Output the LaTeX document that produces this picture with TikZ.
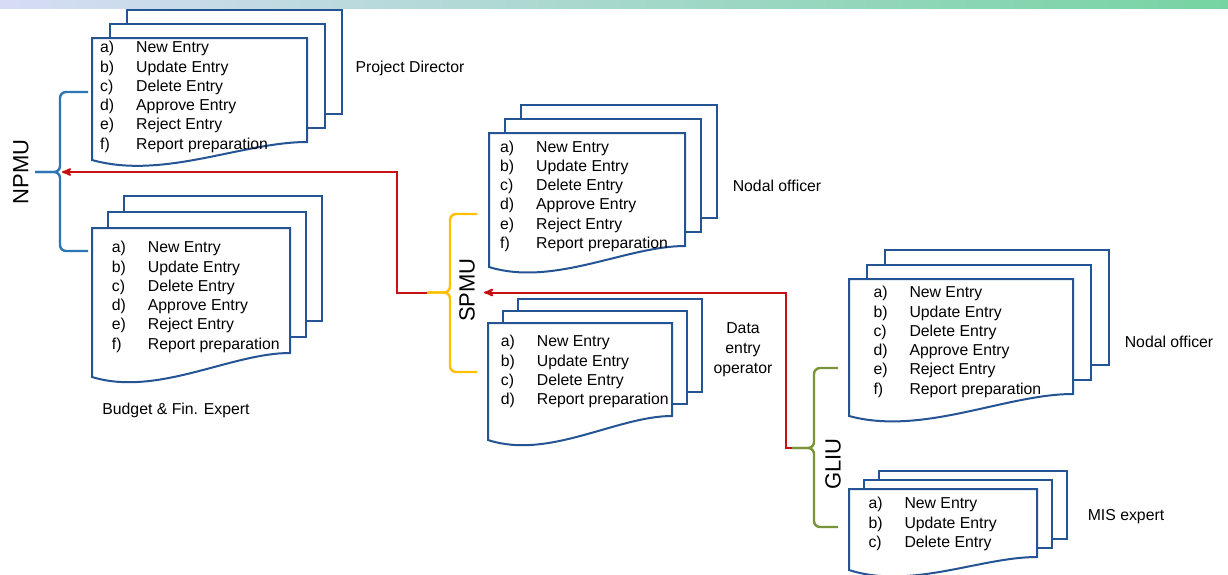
\documentclass[tikz,border=0pt]{standalone}
\usepackage{fontspec}
\setmainfont{Liberation Sans}
\usepackage{tikz}
\usetikzlibrary{arrows}
\usetikzlibrary{calc}

\definecolor{sheetblue}{RGB}{36,84,148}
\definecolor{npmublue}{RGB}{46,117,182}
\definecolor{spmugold}{RGB}{255,192,0}
\definecolor{gliugreen}{RGB}{122,148,58}
\definecolor{linkred}{RGB}{200,16,20}
\definecolor{bandleft}{RGB}{214,220,245}
\definecolor{bandmid}{RGB}{184,200,240}
\definecolor{bandright}{RGB}{118,212,162}

\tikzset{
  sheet/.style={draw=sheetblue, fill=white, line width=2pt},
  entries/.style={inner sep=0pt, anchor=base west, font=\fontsize{15.8}{19.3}\selectfont},
  role/.style={inner sep=0pt, align=center, font=\fontsize{15.8}{20}\selectfont},
  unit/.style={inner sep=0pt, rotate=90, font=\fontsize{22}{26}\selectfont},
  brace/.style={line width=2.4pt, rounded corners=6pt},
  link/.style={linkred, line width=2pt}
}

% list of actions on the front sheet
\newcommand{\sheetlist}[1]{\begin{tabular}[t]{@{}p{36pt}@{}l@{}}#1\end{tabular}}

% three stacked sheets: left, top, right, right bottom, left bottom, dx, dy
\newcommand{\sheetstack}[7]{
  \foreach \k in {2,1} {
    \draw[sheet] ({#1+\k*(#6)},{#2+\k*(#7)}) rectangle ({#3+\k*(#6)},{#4+\k*(#7)});
  }
  \draw[sheet] (#1,#2) -- (#3,#2) -- (#3,#4)
    .. controls ({#3-0.3*(#3-#1)},#4) and ({#1+0.33*(#3-#1)},{#5+20}) .. (#1,#5) -- cycle;
}

\begin{document}
\begin{tikzpicture}[x=1pt, y=-1pt, >=stealth']
\useasboundingbox (0,0) rectangle (1228,574);
\fill[white] (0,0) rectangle (1228,574);
\shade[left color=bandleft, middle color=bandmid, right color=bandright] (0,0) rectangle (1228,8);

% NPMU
\sheetstack{92}{38}{307}{142}{160}{17.5}{-14}
\node[entries] (pd list) at (100,52.7) {\sheetlist{a) & New Entry\\ b) & Update Entry\\ c) & Delete Entry\\ d) & Approve Entry\\ e) & Reject Entry\\ f) & Report preparation}};
\node[role] (pd) at (410,68) {Project Director};

\sheetstack{92}{228}{290}{353}{377}{16}{-16}
\node[entries] (bf list) at (111.7,252.7) {\sheetlist{a) & New Entry\\ b) & Update Entry\\ c) & Delete Entry\\ d) & Approve Entry\\ e) & Reject Entry\\ f) & Report preparation}};
\node[role] (bf) at (176,410) {Budget \& Fin. Expert};

% SPMU
\sheetstack{489}{133}{685}{246}{267}{16}{-14}
\node[entries] (sno list) at (500,152) {\sheetlist{a) & New Entry\\ b) & Update Entry\\ c) & Delete Entry\\ d) & Approve Entry\\ e) & Reject Entry\\ f) & Report preparation}};
\node[role] (sno) at (777,186) {Nodal officer};

\sheetstack{488}{323}{672}{416}{440}{15}{-12}
\node[entries] (deo list) at (500.7,346.7) {\sheetlist{a) & New Entry\\ b) & Update Entry\\ c) & Delete Entry\\ d) & Report preparation}};
\node[role] (deo) at (743,350) {Data\\entry\\operator};

% GLIU
\sheetstack{849}{279}{1073}{394}{416}{18}{-14.5}
\node[entries] (gno list) at (873.3,297.7) {\sheetlist{a) & New Entry\\ b) & Update Entry\\ c) & Delete Entry\\ d) & Approve Entry\\ e) & Reject Entry\\ f) & Report preparation}};
\node[role] (gno) at (1169,342) {Nodal officer};

\sheetstack{849}{489}{1037}{557}{570}{15}{-9}
\node[entries] (mis list) at (868.3,508.7) {\sheetlist{a) & New Entry\\ b) & Update Entry\\ c) & Delete Entry}};
\node[role] (mis) at (1126,517) {MIS expert};

% braces
\coordinate (npmu tip) at (35,172);
\coordinate (npmu spine) at (62,172);
\draw[brace, npmublue] (88,92) -- (60,92) -- (60,172) -- (npmu tip);
\draw[brace, npmublue] (88,251) -- (60,251) -- (60,172) -- (npmu tip);
\node[unit] (npmu) at (21,172) {NPMU};

\coordinate (spmu tip) at (427,292.5);
\coordinate (spmu in) at (484,292.5);
\draw[brace, spmugold] (477,214) -- (450,214) -- (450,292.5) -- (spmu tip);
\draw[brace, spmugold] (477,372) -- (450,372) -- (450,292.5) -- (spmu tip);
\node[unit] (spmu) at (467,290) {SPMU};

\coordinate (gliu tip) at (792,448);
\draw[brace, gliugreen] (838,368) -- (814,368) -- (814,448) -- (gliu tip);
\draw[brace, gliugreen] (838,527) -- (814,527) -- (814,448) -- (gliu tip);
\node[unit] (gliu) at (833,464) {GLIU};

% reporting links
\draw[link, ->] (spmu tip) -| (397,172) -- (npmu spine);
\draw[link, ->] (gliu tip) -| (786,292.5) -- (spmu in);
\end{tikzpicture}
\end{document}
